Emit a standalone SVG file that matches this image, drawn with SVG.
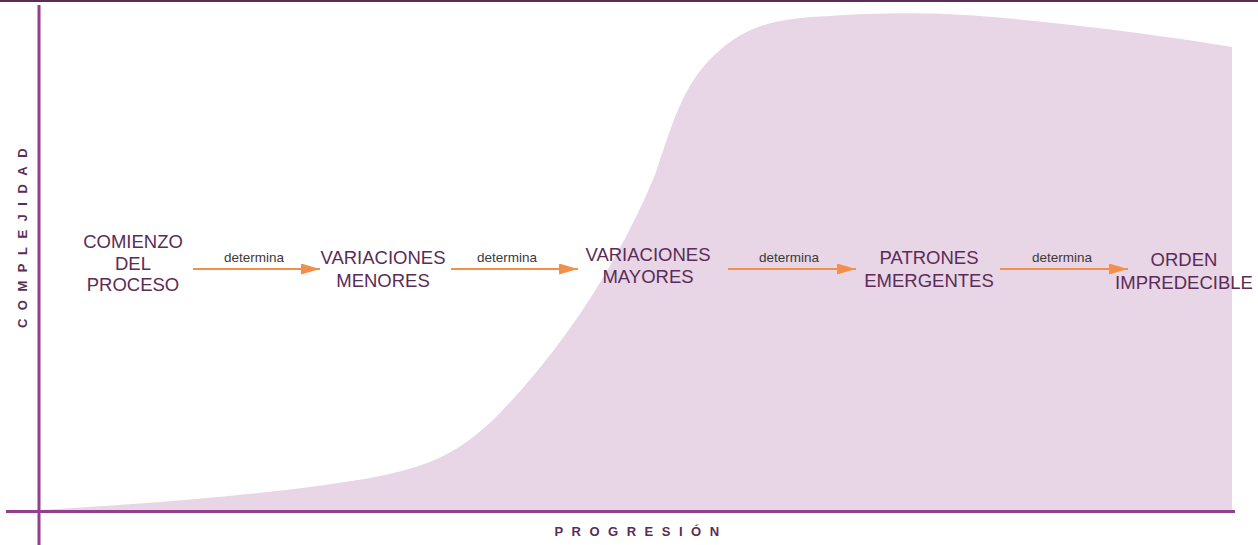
<svg xmlns="http://www.w3.org/2000/svg" width="1258" height="545" viewBox="0 0 1258 545">
<style>
.node{font-family:"Liberation Sans",Arial,sans-serif;font-size:18.5px;fill:#5b2c57;text-anchor:middle}
.lbl{font-family:"Liberation Sans",Arial,sans-serif;font-size:13.5px;fill:#3a3a3a;text-anchor:middle}
.axis{font-family:"Liberation Sans",Arial,sans-serif;font-size:13px;font-weight:bold;fill:#5b2c57;text-anchor:middle;letter-spacing:8.5px}
.arr{stroke:#f0904a;stroke-width:2;fill:none;marker-end:url(#ah)}
</style>
<defs>
<marker id="ah" viewBox="0 0 10 10" refX="10" refY="5" markerWidth="19" markerHeight="11" markerUnits="userSpaceOnUse" orient="auto" preserveAspectRatio="none">
<path d="M0,0 L10,5 L0,10 Z" fill="#f0904a"/>
</marker>
</defs>
<rect width="1258" height="545" fill="#fff"/>
<path id="area" d="M40,510 C150,504 300,492 380,476 C430,466 460,452 495,418 C560,352 615,270 655,175 C675,115 685,80 720,50 C750,24 780,18 830,16 C880,13 920,12 980,16 C1080,24 1180,38 1232,47 L1232,510 Z" fill="#e8d5e6"/>
<line x1="0" y1="1" x2="1258" y2="1" stroke="#5b2c57" stroke-width="2"/>
<line x1="39" y1="5" x2="39" y2="545" stroke="#933f8e" stroke-width="3"/>
<line x1="6" y1="511.5" x2="1235" y2="511.5" stroke="#933f8e" stroke-width="3"/>
<text class="axis" transform="translate(27,234) rotate(-90)">COMPLEJIDAD</text>
<text class="axis" x="641" y="536">PROGRESIÓN</text>
<g id="connectors">
<line class="arr" x1="193" y1="269" x2="320" y2="269"/>
<text class="lbl" x="254" y="262">determina</text>
<line class="arr" x1="451" y1="269" x2="578" y2="269"/>
<text class="lbl" x="507" y="262">determina</text>
<line class="arr" x1="728" y1="269" x2="856" y2="269"/>
<text class="lbl" x="789" y="262">determina</text>
<line class="arr" x1="1000" y1="269" x2="1128" y2="269"/>
<text class="lbl" x="1062" y="262">determina</text>
</g>
<g id="n1"><text class="node" x="133" y="248">COMIENZO</text><text class="node" x="133" y="270">DEL</text><text class="node" x="133" y="291">PROCESO</text></g>
<g id="n2"><text class="node" x="383" y="264">VARIACIONES</text><text class="node" x="383" y="287">MENORES</text></g>
<g id="n3"><text class="node" x="648" y="261">VARIACIONES</text><text class="node" x="648" y="283">MAYORES</text></g>
<g id="n4"><text class="node" x="929" y="264">PATRONES</text><text class="node" x="929" y="287">EMERGENTES</text></g>
<g id="n5"><text class="node" x="1184" y="266">ORDEN</text><text class="node" x="1184" y="289">IMPREDECIBLE</text></g>
</svg>
